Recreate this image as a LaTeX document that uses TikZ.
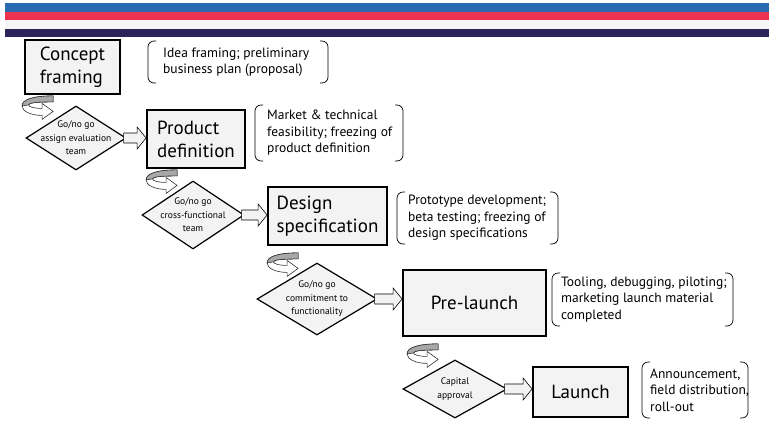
\documentclass[tikz,border=0pt]{standalone}
\usepackage{fontspec}
\setmainfont{PT Sans}
\usetikzlibrary{shapes.geometric,calc}

\definecolor{stripeblue}{HTML}{2A6AB1}
\definecolor{stripered}{HTML}{EE3350}
\definecolor{stripelight}{HTML}{F6F6F6}
\definecolor{stripenavy}{HTML}{2B2359}
\definecolor{boxfill}{HTML}{F3F3F3}
\definecolor{turngray}{HTML}{A8A8A8}

% block arrow from a go/no go diamond to the next stage
\newcommand{\stagearrow}[2]{%
  \draw[blockarr] ($(#1.east)+(-3,-5)$) -- ($(#1.east -| #2.west)+(-9,-5)$)
    -- ($(#1.east -| #2.west)+(-9,-11)$) -- (#1.east -| #2.west)
    -- ($(#1.east -| #2.west)+(-9,11)$) -- ($(#1.east -| #2.west)+(-9,5)$)
    -- ($(#1.east)+(-3,5)$) -- cycle;}
% rounded brackets round a note: name, left gap, width, height
\newcommand{\notebrackets}[4]{%
  \draw[bracket] ($(#1.west)+(-#2+8,-#4/2)$) -- ++(-8,0) -- ++(0,#4) -- ++(8,0);
  \draw[bracket] ($(#1.west)+(-#2+#3-8,-#4/2)$) -- ++(8,0) -- ++(0,#4) -- ++(-8,0);}

\begin{document}
\begin{tikzpicture}[x=1pt,y=-1pt,
  stage/.style={draw,line width=1.8pt,fill=boxfill,align=left,inner sep=0pt,
    font=\fontsize{19}{23}\selectfont},
  decision/.style={diamond,draw,line width=1.2pt,fill=boxfill,inner sep=0pt},
  dtext/.style={align=center,inner sep=0pt,font=\fontsize{9.5}{13.5}\selectfont},
  note/.style={align=left,inner sep=0pt,anchor=west,
    font=\fontsize{13.5}{16.5}\selectfont},
  bracket/.style={line width=0.7pt,rounded corners=6pt},
  blockarr/.style={draw,line width=0.6pt,fill=boxfill},
  turnline/.style={line width=0.6pt,draw=black!80},
  uturn/.pic={
    \draw[turnline,fill=white] (31,0) .. controls (10,0) and (0,4) .. (0,10)
      .. controls (0,15) and (8,19.5) .. (20,19.5) -- (20,23.5) -- (31,15.5)
      -- (20,7.5) -- (20,12.5) .. controls (12,12.5) and (6.5,11) .. (6.5,9)
      .. controls (6.5,7) and (14,6) .. (31,6) -- cycle;
    \draw[turnline,fill=turngray] (31,0) .. controls (10,0) and (0,4) .. (0,10)
      -- (6.5,9) .. controls (6.5,7) and (14,6) .. (31,6) -- cycle;
  }]
\useasboundingbox (0,0) rectangle (769,424);

% header stripes
\fill[stripeblue] (5,3) rectangle (769,12);
\fill[stripered] (5,12) rectangle (769,20);
\fill[stripelight] (5,20) rectangle (769,29);
\fill[stripenavy] (5,29) rectangle (769,37);

% stages
\node[stage,minimum width=95pt,minimum height=54pt] (concept) at (72.5,67) {Concept\\framing};
\node[stage,minimum width=98pt,minimum height=58pt] (product) at (196,139) {Product\\definition};
\node[stage,minimum width=119pt,minimum height=58pt] (design) at (327.5,216) {Design\\specification};
\node[stage,minimum width=143pt,minimum height=66pt] (prelaunch) at (474.5,303) {Pre-launch};
\node[stage,minimum width=95pt,minimum height=50pt] (launch) at (580.5,392) {Launch};

% go/no go decisions
\node[decision,minimum width=100pt,minimum height=64pt,
  label={[dtext]center:{Go/no go\\assign evaluation\\team}}] (d1) at (76,138) {};
\node[decision,minimum width=102pt,minimum height=68pt,
  label={[dtext]center:{Go/no go\\cross-functional\\team}}] (d2) at (193,215) {};
\node[decision,minimum width=120pt,minimum height=72pt,
  label={[dtext]center:{Go/no go\\commitment to\\functionality}}] (d3) at (317,299) {};
\node[decision,minimum width=104pt,minimum height=58pt,
  label={[dtext]center:{Capital\\approval}}] (d4) at (455,389) {};

\foreach \d/\b in {d1/product,d2/design,d3/prelaunch,d4/launch}
  \stagearrow{\d}{\b};

% turn arrows under each stage
\foreach \b/\dx/\dy in {concept/-2/1,product/0/1,design/0/7,prelaunch/5/7}
  \pic at ($(\b.south west)+(\dx,\dy)$) {uturn};

% notes
\node[note] (n1) at (163,62) {Idea framing; preliminary\\business plan (proposal)};
\node[note] (n2) at (267,133) {Market \& technical\\feasibility; freezing of\\product definition};
\node[note] (n3) at (408,218) {Prototype development;\\beta testing; freezing of\\design specifications};
\node[note] (n4) at (561,299.5) {Tooling, debugging, piloting;\\marketing launch material\\completed};
\node[note] (n5) at (650,390) {Announcement,\\field distribution,\\roll-out};
\notebrackets{n1}{15}{180}{42}
\notebrackets{n2}{12}{148}{56}
\notebrackets{n3}{11}{161}{52}
\notebrackets{n4}{9}{181}{53}
\notebrackets{n5}{8}{106}{56}
\end{tikzpicture}
\end{document}
